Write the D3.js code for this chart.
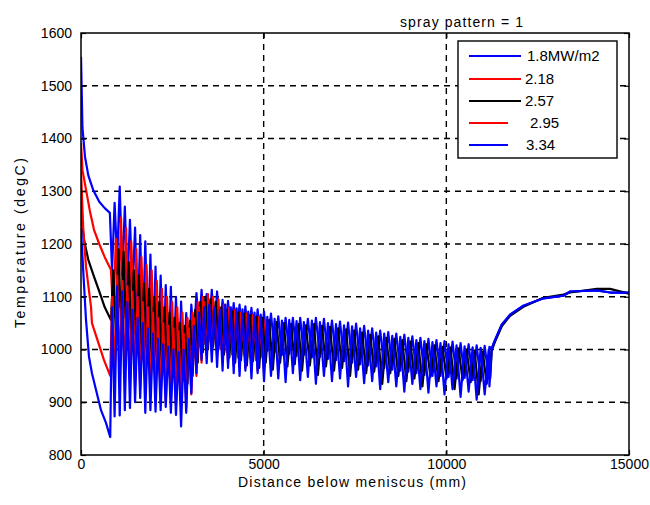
<!DOCTYPE html>
<html><head><meta charset="utf-8">
<script src="https://cdn.jsdelivr.net/npm/d3@7"></script>
<style>
body{margin:0;background:#fff;}
svg{display:block;font-family:"Liberation Sans",Arial,sans-serif;}
</style>
</head><body>
<svg id="chart" width="650" height="505"></svg>
<script>
// ---------------- DATA ----------------
const titleText = "spray pattern = 1";
const xLabel = "Distance below meniscus (mm)";
const yLabel = "Temperature (degC)";
const xTicks = [0, 5000, 10000, 15000];
const yTicks = [800, 900, 1000, 1100, 1200, 1300, 1400, 1500, 1600];
const seriesNames = ["1.8MW/m2", "2.18", "2.57", "2.95", "3.34"];
const seriesColors = ["#0000ff", "#ff0000", "#000000", "#ff0000", "#0000ff"];

// positions (mm) of the spray-zone temperature peaks / dips
const peakX = [850,990,1130,1270,1410,1550,1690,1830,1970,2110,2250,2390,2530,2670,2810,2950,3090,3230,3370,3510,3650,3800,
  3950,4100,4260,4420,4580,4750,4920,5100,5300,5500,5700,5900,6100,6320,6540,6760,6980,7200,7420,7640,7860,8080,8300,8520,
  8740,8960,9180,9400,9620,9840,10060,10280,10500,10720,10940,11160];
const dipX = [920,1060,1200,1340,1480,1620,1760,1900,2040,2180,2320,2460,2600,2740,2880,3020,3160,3300,3440,3580,3725,3875,
  4025,4180,4340,4500,4665,4835,5010,5200,5400,5600,5800,6000,6210,6430,6650,6870,7090,7310,7530,7750,7970,8190,8410,8630,
  8850,9070,9290,9510,9730,9950,10170,10390,10610,10830,11050,11180];
const qX1 = [885,1025,1165,1305,1445,1585,1725,1865,2005,2145,2285,2425,2565,2705,2845,2985,3125,3265,3405,3545,3688,3838,
  3988,4140,4300,4460,4622,4792,4965,5150,5350,5550,5750,5950,6155,6375,6595,6815,7035,7255,7475,7695,7915,8135,8355,8575,
  8795,9015,9235,9455,9675,9895,10115,10335,10555,10775,10995,11170];
const qX2 = [955,1095,1235,1375,1515,1655,1795,1935,2075,2215,2355,2495,2635,2775,2915,3055,3195,3335,3475,3615,3762,3912,
  4062,4220,4380,4540,4708,4878,5055,5250,5450,5650,5850,6050,6265,6485,6705,6925,7145,7365,7585,7805,8025,8245,8465,8685,
  8905,9125,9345,9565,9785,10005,10225,10445,10665,10885,11105,11200];

// start-of-strand segments: [mm, degC]
const head18 = [[0,1555],[40,1420],[110,1365],[200,1330],[330,1303],[500,1280],[650,1268],[790,1259]];
const head218 = [[0,1392],[40,1340],[137,1303],[250,1260],[356,1227],[500,1200],[650,1175],[820,1151]];
const head257 = [[0,1285],[30,1240],[82,1208],[200,1170],[356,1138],[500,1110],[650,1080],[820,1056]];
const head295 = [[0,1340],[60,1230],[137,1157],[274,1081],[300,1050],[630,980],[800,950]];
const head334 = [[0,1230],[60,1150],[137,1056],[219,986],[300,955],[547,885],[684,861],[800,834]];

// peak / dip temperatures in the spray region
const hi18 = [1278,1309,1271,1246,1231,1217,1205,1180,1157,1140,1122,1119,1100,1091,1069,1085,1107,1113,1105,1113,1110,1094,
  1092,1088,1085,1082,1079,1076,1072,1068,1063,1060,1060,1060,1058,1060,1058,1055,1053,1051,1049,1045,1040,1036,1033,1030,
  1028,1025,1022,1020,1018,1016,1015,1012,1010,1008,1007,1005];
const lo18 = [1150,1170,1140,1120,1110,1040,1020,1000,985,970,960,955,950,945,950,965,1020,1035,1040,1045,1040,1030,
  1030,1025,1020,1015,1010,1005,1000,998,995,990,992,988,990,985,986,982,980,978,975,972,970,968,965,962,960,958,955,952,
  950,950,948,945,946,942,940,945];
const hi218 = [1210,1250,1230,1205,1190,1175,1160,1150,1130,1115,1100,1090,1080,1070,1060,1070,1090,1100,1105,1100,1095,1085,
  1080,1075,1070,1068,1065,1062,1058];
const lo218 = [1060,1080,1060,1040,1030,1010,1000,990,985,975,970,965,960,955,950,965,985,1005,1010,1015,1010,1000,
  995,990,985,990,985,980,985];
const hi257 = [1150,1190,1185,1165,1150,1140,1125,1115,1100,1090,1080,1070,1060,1050,1045,1055,1075,1090,1100,1095,1090,1080,
  1075,1072,1070,1068,1065,1062,1060,1056,1052,1050,1048,1048,1046,1048,1045,1043,1040,1038,1036,1032,1028,1025,1022,1020,
  1018,1015,1012,1010,1008,1005,1004,1002,1000,998,996,995];
const lo257 = [1030,1050,1030,1020,1005,995,985,975,965,960,955,950,945,940,935,950,975,995,1000,1005,1000,990,
  985,975,980,970,978,965,975,962,975,968,972,960,970,952,968,960,965,950,962,955,958,935,955,950,940,945,930,948,940,945,
  925,942,938,915,935,945];
const hi295 = [1100,1140,1130,1120,1110,1100,1090,1080,1070,1060,1050,1045,1040,1035,1030,1040,1060,1080,1090,1085,1080,1075,
  1070,1068,1065,1060,1058,1055,1050];
const lo295 = [950,960,950,940,930,925,920,915,910,905,900,900,895,892,890,915,950,975,990,995,990,980,
  975,970,968,965,960,960,955];
const hi334 = [1080,1120,1110,1090,1075,1060,1050,1040,1030,1020,1010,1005,1000,995,1000,1020,1045,1070,1080,1085,1080,1075,
  1085,1080,1078,1076,1072,1070,1066,1062,1058,1055,1056,1054,1052,1055,1052,1050,1048,1046,1044,1040,1036,1032,1030,1026,
  1024,1022,1018,1016,1014,1012,1010,1008,1006,1004,1003,1000];
const lo334 = [873,875,885,889,900,908,880,885,882,885,891,880,876,854,880,917,955,980,974,977,967,960,
  965,955,950,960,945,955,940,950,945,938,955,942,948,935,950,940,945,930,948,936,940,925,938,930,920,935,925,918,930,915,
  925,910,920,905,915,930];

// after the spray zones (reheating)
const tailX = [11243,11334,11517,11745,12110,12657,13205,13388,14118,14483,15000];
const tailBlue = [1002,1018,1047,1066,1083,1097,1102,1110,1112,1108,1108];
const tailBlack = [998,1015,1044,1064,1081,1098,1104,1108,1115,1115,1106];

// ---------------- BUILD SERIES ----------------
function buildSeries(head, xs1, v1, xs2, v2, tail) {
  const pts = head.map(d => ({x: d[0], t: d[1]}));
  for (let i = 0; i < v1.length; i++) {
    pts.push({x: xs1[i], t: v1[i]});
    pts.push({x: xs2[i], t: v2[i]});
  }
  if (tail) tailX.forEach((tx, i) => pts.push({x: tx, t: tail[i]}));
  return pts;
}
const series = [
  buildSeries(head18, peakX, lo18, dipX, hi18, tailBlue),
  buildSeries(head218, qX1, lo218, qX2, hi218, null),
  buildSeries(head257, qX1, hi257, qX2, lo257, tailBlack),
  buildSeries(head295, peakX, hi295, dipX, lo295, null),
  buildSeries(head334, peakX, hi334, dipX, lo334, tailBlue)
];

// ---------------- DRAW ----------------
const svg = d3.select("#chart");
const P = {l: 81, r: 629, t: 33, b: 455};
const x = d3.scaleLinear().domain([0, 15000]).range([P.l, P.r]);
const y = d3.scaleLinear().domain([800, 1600]).range([P.b, P.t]);

svg.append("rect").attr("width", 650).attr("height", 505).attr("fill", "#fff");

// grid
const grid = svg.append("g").attr("stroke", "#000").attr("stroke-width", 1.4).attr("stroke-dasharray", "6,5");
xTicks.slice(1, -1).forEach(v => grid.append("line").attr("x1", x(v)).attr("x2", x(v)).attr("y1", P.t).attr("y2", P.b));
yTicks.slice(1, -1).forEach(v => grid.append("line").attr("x1", P.l).attr("x2", P.r).attr("y1", y(v)).attr("y2", y(v)));

// series
svg.append("clipPath").attr("id", "clip").append("rect")
  .attr("x", P.l).attr("y", P.t).attr("width", P.r - P.l).attr("height", P.b - P.t);
const line = d3.line().x(d => x(d.x)).y(d => y(d.t));
const gS = svg.append("g").attr("clip-path", "url(#clip)");
series.forEach((s, i) => {
  gS.append("path").datum(s).attr("d", line).attr("fill", "none")
    .attr("stroke", seriesColors[i]).attr("stroke-width", 2.2).attr("stroke-linejoin", "round");
});

// axes (MATLAB style: ticks inside, on all sides)
function styleAxis(g, labels) {
  g.select(".domain").remove();
  g.selectAll(".tick line").attr("stroke", "#000").attr("stroke-width", 1.2);
  g.selectAll(".tick text").attr("fill", "#000").style("font-size", "14px");
  if (!labels) g.selectAll(".tick text").remove();
}
svg.append("g").attr("transform", `translate(0,${P.b})`)
  .call(d3.axisBottom(x).tickValues(xTicks).tickFormat(d3.format("d")).tickSize(-5).tickPadding(4))
  .call(g => styleAxis(g, true));
svg.append("g").attr("transform", `translate(0,${P.t})`)
  .call(d3.axisTop(x).tickValues(xTicks).tickSize(-5)).call(g => styleAxis(g, false));
svg.append("g").attr("transform", `translate(${P.l},0)`)
  .call(d3.axisLeft(y).tickValues(yTicks).tickFormat(d3.format("d")).tickSize(-5).tickPadding(9))
  .call(g => styleAxis(g, true));
svg.append("g").attr("transform", `translate(${P.r},0)`)
  .call(d3.axisRight(y).tickValues(yTicks).tickSize(-5)).call(g => styleAxis(g, false));

svg.append("rect").attr("x", P.l).attr("y", P.t).attr("width", P.r - P.l).attr("height", P.b - P.t)
  .attr("fill", "none").attr("stroke", "#000").attr("stroke-width", 1.5);

// labels
svg.append("text").attr("x", 352).attr("y", 487).attr("text-anchor", "middle")
  .style("font-size", "14px").attr("textLength", 228).attr("lengthAdjust", "spacing").text(xLabel);
svg.append("text").attr("transform", "translate(25,243) rotate(-90)").attr("text-anchor", "middle")
  .style("font-size", "14px").attr("textLength", 170).attr("lengthAdjust", "spacing").text(yLabel);
svg.append("text").attr("x", 400).attr("y", 27)
  .style("font-size", "14px").attr("textLength", 123).attr("lengthAdjust", "spacing").text(titleText);

// legend
const lg = svg.append("g");
lg.append("rect").attr("x", 458).attr("y", 41).attr("width", 159).attr("height", 117)
  .attr("fill", "#fff").attr("stroke", "#000").attr("stroke-width", 1.4);
const rowY = [56, 79, 101, 123, 145];
const lineEnd = [521, 521, 521, 508, 508];
const textX = [527, 525, 525, 530, 526];
seriesNames.forEach((n, i) => {
  lg.append("line").attr("x1", 469).attr("x2", lineEnd[i]).attr("y1", rowY[i]).attr("y2", rowY[i])
    .attr("stroke", seriesColors[i]).attr("stroke-width", 1.8);
  lg.append("text").attr("x", textX[i]).attr("y", rowY[i] + 5).style("font-size", "15px").text(n);
});
</script>
</body></html>
